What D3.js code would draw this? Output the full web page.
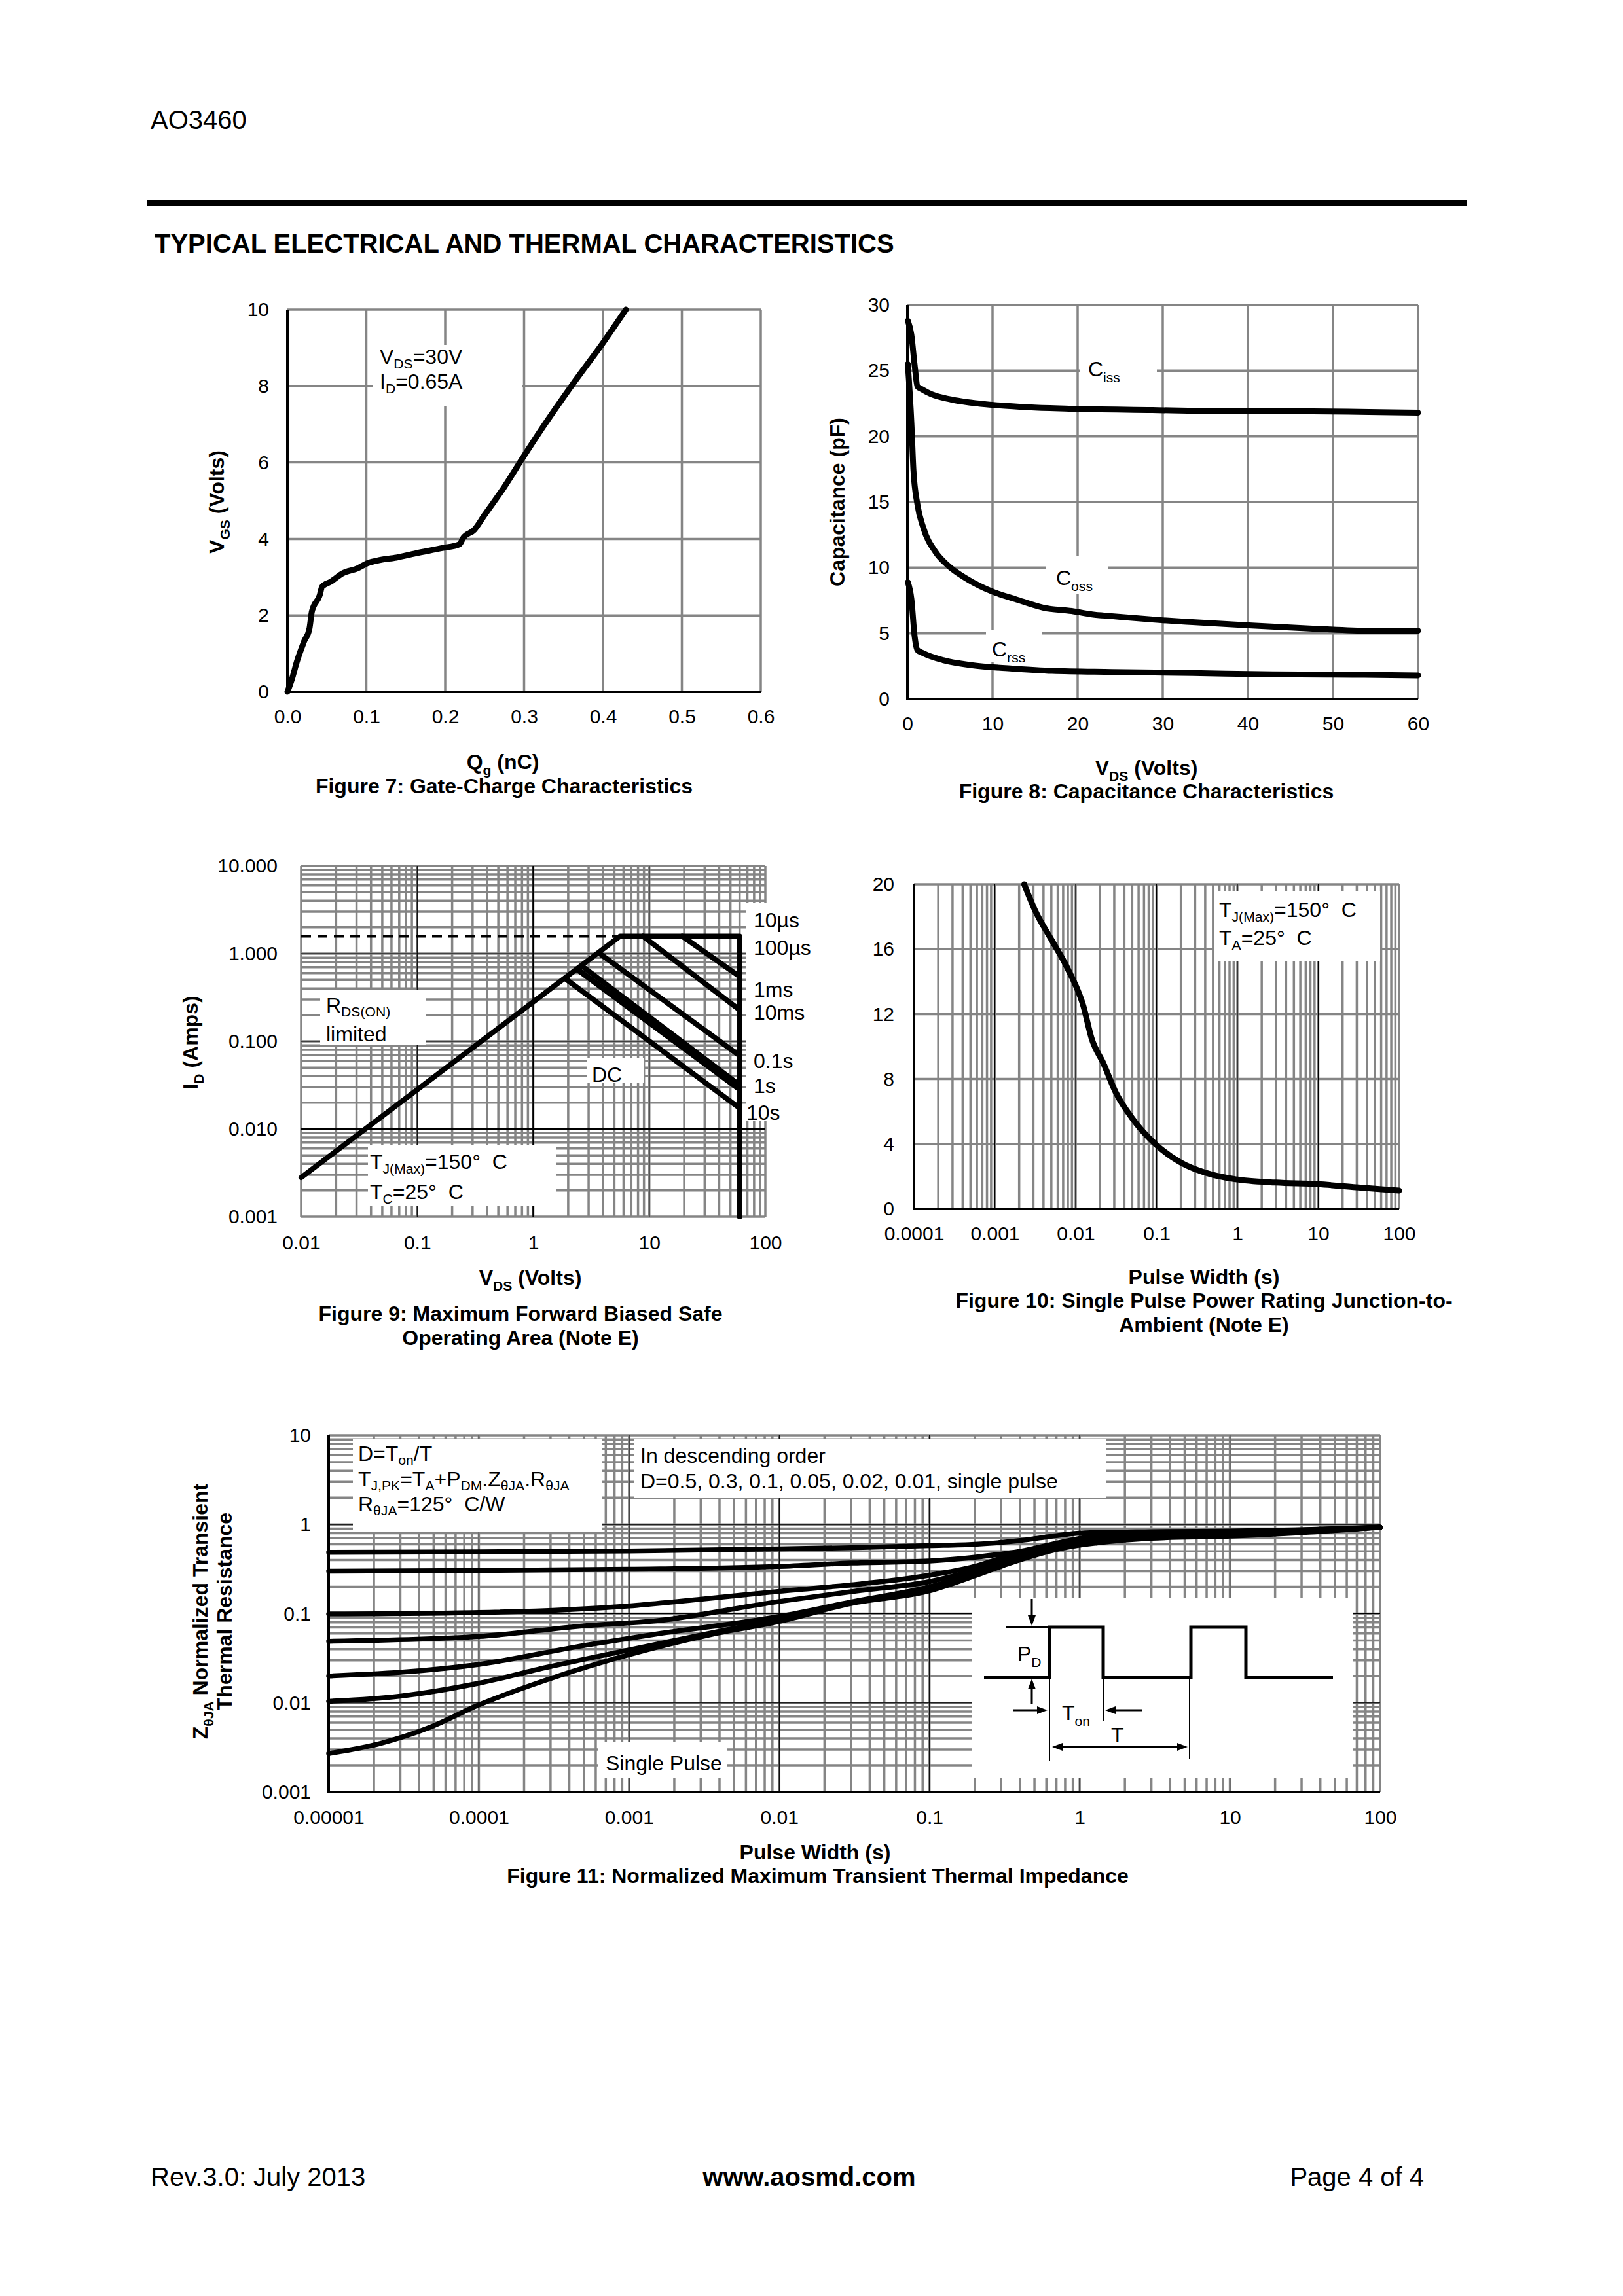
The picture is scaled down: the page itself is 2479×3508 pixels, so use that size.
<!DOCTYPE html>
<html>
<head>
<meta charset="utf-8">
<script src="https://cdn.jsdelivr.net/npm/d3@7"></script>
<style>
  html, body { margin: 0; padding: 0; background: #fff; }
  svg { display: block; }
  text { white-space: pre; }
</style>
</head>
<body>
<svg id="page" width="2479" height="3508"></svg>
<script>
// ---------- data ----------

// Figure 7: gate charge (Qg nC, Vgs V)
const qgTicks = [0, 0.1, 0.2, 0.3, 0.4, 0.5, 0.6];
const vgsTicks = [0, 2, 4, 6, 8, 10];
const gateCharge = [[0,0],[0.006,0.35],[0.012,0.79],[0.021,1.31],[0.028,1.66],[0.031,2.10],[0.041,2.53],[0.044,2.75],
  [0.055,2.88],[0.070,3.10],[0.089,3.23],[0.101,3.36],[0.118,3.45],[0.138,3.51],[0.162,3.62],[0.196,3.76],
  [0.218,3.86],[0.223,4.03],[0.237,4.24],[0.250,4.63],[0.274,5.33],[0.298,6.11],[0.323,6.90],[0.361,8.03],
  [0.400,9.13],[0.429,10.0]];

// Figure 8: capacitance (Vds V, pF)
const vdsTicks = [0, 10, 20, 30, 40, 50, 60];
const capTicks = [0, 5, 10, 15, 20, 25, 30];
const ciss = [[0.05,28.8],[0.47,27.7],[0.85,25.4],[1.18,23.8],[1.65,23.6],[2.83,23.2],[5.18,22.8],[9.9,22.4],
  [14.6,22.2],[19.3,22.1],[28.8,22.0],[38.2,21.9],[47.6,21.9],[60,21.8]];
const coss = [[0.05,25.5],[0.47,21.0],[0.71,17.4],[1.18,14.8],[1.89,13.0],[3.3,11.2],[4.7,10.2],[7.1,9.1],
  [9.9,8.2],[12.7,7.6],[16.0,6.95],[19.3,6.7],[21.7,6.44],[24.0,6.31],[28.8,6.05],[33.5,5.85],[40.5,5.59],
  [47.6,5.36],[54.2,5.2],[60,5.2]];
const crss = [[0.05,8.9],[0.47,7.6],[0.85,4.76],[1.18,3.73],[1.89,3.48],[4.2,2.96],[7.5,2.58],[12.3,2.32],
  [17.0,2.14],[24.0,2.06],[33.5,1.98],[42.9,1.88],[52.3,1.85],[60,1.80]];

// Figure 9: safe operating area (Vds V, Id A)
const soaVTicks = [0.01, 0.1, 1, 10, 100];
const soaITicks = [0.001, 0.01, 0.1, 1, 10];
const soaLimit = [[0.01,0.0028],[5.6,1.58],[60,1.58],[60,0.001]];   // RDS(ON), 10us and 60 V edge
const soaDashed = [[0.01,1.58],[5.6,1.58]];
const soa100us = [[19.2,1.58],[60,0.548]];
const soa1ms = [[8.8,1.58],[60,0.228]];
const soa10ms = [[3.78,0.99],[60,0.0686]];
const soa100ms = [[2.67,0.71],[60,0.0316]];
const soa1s = [[2.44,0.655],[60,0.0285]];
const soa10s = [[2.42,0.65],[60,0.0282]];
const soaDC = [[1.88,0.52],[60,0.0173]];
const soaLabels = ["10\u00b5s", "100\u00b5s", "1ms", "10ms", "0.1s", "1s", "10s"];

// Figure 10: single pulse power (s, W)
const pwTicks = [0.0001, 0.001, 0.01, 0.1, 1, 10, 100];
const pwLabels = ["0.0001", "0.001", "0.01", "0.1", "1", "10", "100"];
const powerTicks = [0, 4, 8, 12, 16, 20];
const pulsePower = [[0.00231,20],[0.00318,18.34],[0.00502,16.58],[0.00793,14.82],[0.0125,12.47],[0.0157,10.52],
  [0.0221,8.95],[0.0312,7.19],[0.0492,5.63],[0.0977,3.97],[0.194,2.89],[0.483,2.11],[0.957,1.82],[3.0,1.62],
  [9.95,1.52],[29.5,1.33],[100,1.13]];

// Figure 11: normalized transient thermal impedance (s, Zth)
const ztTicks = [0.00001, 0.0001, 0.001, 0.01, 0.1, 1, 10, 100];
const ztLabels = ["0.00001", "0.0001", "0.001", "0.01", "0.1", "1", "10", "100"];
const zTicks = [0.001, 0.01, 0.1, 1, 10];
const zLabels = ["0.001", "0.01", "0.1", "1", "10"];
const zD05 = [[1e-5,0.488],[1e-4,0.494],[1e-3,0.505],[1e-2,0.532],[0.03,0.55],[0.1,0.579],[0.2,0.60],[0.4,0.66],
  [0.7,0.75],[1,0.80],[3,0.83],[10,0.845],[30,0.875],[100,0.93]];
const zD03 = [[1e-5,0.30],[1e-4,0.305],[1e-3,0.315],[1e-2,0.339],[0.03,0.37],[0.1,0.39],[0.2,0.43],[0.4,0.50],
  [0.8,0.647],[1.3,0.75],[3,0.80],[10,0.83],[30,0.87],[100,0.93]];
const zD01 = [[1e-5,0.099],[1e-4,0.103],[1e-3,0.122],[3e-3,0.145],[1e-2,0.178],[0.035,0.216],[0.1,0.27],[0.2,0.34],
  [0.33,0.44],[0.8,0.63],[1.3,0.72],[3,0.77],[10,0.80],[30,0.85],[100,0.93]];
const zD005 = [[1e-5,0.049],[1e-4,0.0555],[5e-4,0.073],[1.5e-3,0.083],[1e-2,0.137],[0.035,0.182],[0.1,0.229],
  [0.2,0.31],[0.33,0.41],[0.8,0.60],[1.3,0.69],[3,0.75],[10,0.78],[30,0.84],[100,0.93]];
const zD002 = [[1e-5,0.020],[3e-5,0.022],[1e-4,0.027],[5e-4,0.044],[1.5e-3,0.059],[1e-2,0.093],[0.03,0.135],
  [0.1,0.20],[0.2,0.28],[0.33,0.38],[0.8,0.57],[1.3,0.66],[3,0.72],[10,0.76],[30,0.83],[100,0.93]];
const zD001 = [[1e-5,0.0104],[3e-5,0.0119],[1e-4,0.0166],[2.8e-4,0.0249],[1e-3,0.0392],[3.6e-3,0.0614],[1e-2,0.087],
  [0.03,0.132],[0.1,0.19],[0.2,0.27],[0.33,0.37],[0.8,0.56],[1.3,0.64],[3,0.71],[10,0.75],[30,0.82],[100,0.93]];
const zSingle = [[1e-5,0.0027],[2.2e-5,0.0035],[4.7e-5,0.0053],[1e-4,0.0095],[2.8e-4,0.018],[1e-3,0.0347],
  [3.6e-3,0.059],[1e-2,0.082],[0.03,0.13],[0.1,0.18],[0.2,0.265],[0.33,0.36],[0.8,0.55],[1.3,0.62],[3,0.70],
  [10,0.74],[30,0.81],[100,0.93]];

// ---------- helpers ----------
const FONT = '"Liberation Sans", Arial, sans-serif';
const GRID = "#858585";
const GW = 3.5;
const page = d3.select("#page").attr("font-family", FONT);
page.append("rect").attr("width", 2479).attr("height", 3508).attr("fill", "#fff");

// text made of plain strings and ["sub"] pieces
function rich(sel, x, y, parts, size, o = {}) {
  const t = sel.append("text").attr("x", x).attr("y", y).attr("font-size", size)
    .attr("font-weight", o.bold ? "bold" : null)
    .attr("text-anchor", o.anchor || "start");
  if (o.rotate) t.attr("transform", `rotate(-90,${x},${y})`);
  const drop = o.drop == null ? 0.28 : o.drop;
  let shift = 0;
  [].concat(parts).forEach(p => {
    const sub = Array.isArray(p);
    const want = sub ? size * drop : 0;
    t.append("tspan").attr("dy", (want - shift) || null)
      .attr("font-size", sub ? size * 0.66 : null).text(sub ? p[0] : p);
    shift = want;
  });
  return t;
}

function logGrid(lo, hi) {
  const v = [];
  for (let e = lo; e < hi; e++) for (let k = 1; k < 10; k++) v.push(k * Math.pow(10, e));
  v.push(Math.pow(10, hi));
  return v;
}

function vLines(g, vals, x, y0, y1, stroke, w) {
  g.append("g").selectAll("line").data(vals).join("line")
    .attr("x1", d => x(d)).attr("x2", d => x(d)).attr("y1", y0).attr("y2", y1)
    .attr("stroke", stroke).attr("stroke-width", w);
}
function hLines(g, vals, y, x0, x1, stroke, w) {
  g.append("g").selectAll("line").data(vals).join("line")
    .attr("y1", d => y(d)).attr("y2", d => y(d)).attr("x1", x0).attr("x2", x1)
    .attr("stroke", stroke).attr("stroke-width", w);
}
function whiteBox(g, x0, y0, x1, y1) {
  g.append("rect").attr("x", x0).attr("y", y0).attr("width", x1 - x0).attr("height", y1 - y0).attr("fill", "#fff");
}
function axisText(g, axis, tx, ty) {
  const a = g.append("g").attr("transform", `translate(${tx},${ty})`).call(axis);
  a.select(".domain").remove();
  a.attr("font-size", 30).attr("font-family", FONT);
  a.selectAll("text").attr("fill", "#000");
}
function curve(g, data, x, y, w, kind, dash) {
  g.append("path").datum(data)
    .attr("d", d3.line().x(d => x(d[0])).y(d => y(d[1])).curve(kind || d3.curveLinear))
    .attr("fill", "none").attr("stroke", "#000").attr("stroke-width", w)
    .attr("stroke-linejoin", "round").attr("stroke-linecap", dash ? "butt" : "round")
    .attr("stroke-dasharray", dash || null);
}
function axisLines(g, x0, x1, y0, y1) {
  g.append("line").attr("x1", x0).attr("x2", x0).attr("y1", y0).attr("y2", y1 + 2).attr("stroke", "#000").attr("stroke-width", 4);
  g.append("line").attr("x1", x0 - 2).attr("x2", x1).attr("y1", y1).attr("y2", y1).attr("stroke", "#000").attr("stroke-width", 4);
}
function arrow(g, x1, y1, x2, y2) {
  const a = Math.atan2(y2 - y1, x2 - x1), L = 16, W = 6;
  g.append("line").attr("x1", x1).attr("y1", y1)
    .attr("x2", x2 - Math.cos(a) * L).attr("y2", y2 - Math.sin(a) * L)
    .attr("stroke", "#000").attr("stroke-width", 3);
  const p = [[x2, y2],
    [x2 - Math.cos(a) * L - Math.sin(a) * W, y2 - Math.sin(a) * L + Math.cos(a) * W],
    [x2 - Math.cos(a) * L + Math.sin(a) * W, y2 - Math.sin(a) * L - Math.cos(a) * W]];
  g.append("path").attr("d", "M" + p.join("L") + "Z").attr("fill", "#000");
}

// ---------- header / footer ----------
rich(page, 230, 197, "AO3460", 40);
page.append("rect").attr("x", 225).attr("y", 306).attr("width", 2015).attr("height", 8).attr("fill", "#000");
rich(page, 236, 386, "TYPICAL ELECTRICAL AND THERMAL CHARACTERISTICS", 40, { bold: true });
rich(page, 230, 3340, "Rev.3.0: July 2013", 40);
rich(page, 1236, 3340, "www.aosmd.com", 40, { bold: true, anchor: "middle" });
rich(page, 2175, 3340, "Page 4 of 4", 40, { anchor: "end" });

// ---------- Figure 7 ----------
{
  const g = page.append("g");
  const x = d3.scaleLinear().domain([0, 0.6]).range([439, 1162]);
  const y = d3.scaleLinear().domain([0, 10]).range([1057, 473]);
  vLines(g, qgTicks.slice(1), x, 473, 1057, GRID, GW);
  hLines(g, vgsTicks.slice(1), y, 439, 1162, GRID, GW);
  whiteBox(g, 570, 527, 797, 621);
  axisLines(g, 439, 1162, 473, 1057);
  curve(g, gateCharge, x, y, 9, d3.curveMonotoneX);
  axisText(g, d3.axisLeft(y).tickValues(vgsTicks).tickSize(0).tickPadding(28), 439, 0);
  axisText(g, d3.axisBottom(x).tickValues(qgTicks).tickFormat(d3.format(".1f")).tickSize(0).tickPadding(27), 0, 1057);
  rich(g, 580, 556, ["V", ["DS"], "=30V"], 32, { drop: 0.22 });
  rich(g, 580, 594, ["I", ["D"], "=0.65A"], 32, { drop: 0.22 });
  rich(g, 768, 1175, ["Q", ["g"], " (nC)"], 32, { bold: true, anchor: "middle" });
  rich(g, 342, 767, ["V", ["GS"], " (Volts)"], 32, { bold: true, anchor: "middle", rotate: true });
  rich(g, 770, 1212, "Figure 7: Gate-Charge Characteristics", 32, { bold: true, anchor: "middle" });
}

// ---------- Figure 8 ----------
{
  const g = page.append("g");
  const x = d3.scaleLinear().domain([0, 60]).range([1386, 2166]);
  const y = d3.scaleLinear().domain([0, 30]).range([1068, 466]);
  vLines(g, vdsTicks.slice(1), x, 466, 1068, GRID, GW);
  hLines(g, capTicks.slice(1), y, 1386, 2166, GRID, GW);
  whiteBox(g, 1650, 550, 1767, 590);
  whiteBox(g, 1597, 850, 1692, 908);
  whiteBox(g, 1506, 963, 1591, 1011);
  axisLines(g, 1386, 2166, 466, 1068);
  curve(g, ciss, x, y, 9, d3.curveMonotoneX);
  curve(g, coss, x, y, 9, d3.curveMonotoneX);
  curve(g, crss, x, y, 9, d3.curveMonotoneX);
  axisText(g, d3.axisLeft(y).tickValues(capTicks).tickSize(0).tickPadding(27), 1386, 0);
  axisText(g, d3.axisBottom(x).tickValues(vdsTicks).tickSize(0).tickPadding(27), 0, 1068);
  rich(g, 1662, 575, ["C", ["iss"]], 32);
  rich(g, 1613, 894, ["C", ["oss"]], 32);
  rich(g, 1515, 1003, ["C", ["rss"]], 32);
  rich(g, 1751, 1184, ["V", ["DS"], " (Volts)"], 32, { bold: true, anchor: "middle" });
  rich(g, 1290, 767, "Capacitance (pF)", 32, { bold: true, anchor: "middle", rotate: true });
  rich(g, 1751, 1220, "Figure 8: Capacitance Characteristics", 32, { bold: true, anchor: "middle" });
}

// ---------- Figure 9 ----------
{
  const g = page.append("g");
  const x = d3.scaleLog().domain([0.01, 100]).range([460, 1169]);
  const y = d3.scaleLog().domain([0.001, 10]).range([1859, 1323]);
  vLines(g, logGrid(-2, 2), x, 1323, 1859, GRID, GW);
  hLines(g, logGrid(-3, 1), y, 460, 1169, GRID, GW);
  vLines(g, [0.1, 10], x, 1323, 1859, "#000", 1.2);
  vLines(g, [1], x, 1323, 1859, "#000", 2.5);
  hLines(g, [0.1, 1], y, 460, 1169, "#000", 1.2);
  hLines(g, [0.01], y, 460, 1169, "#000", 2.5);
  whiteBox(g, 489, 1512, 650, 1596);
  whiteBox(g, 897, 1616, 984, 1655);
  whiteBox(g, 562, 1749, 850, 1843);
  whiteBox(g, 1140, 1379, 1240, 1713);
  curve(g, soaDashed, x, y, 4, null, "15,10");
  [soa100us, soa1ms, soa10ms, soa100ms, soa1s, soa10s, soaDC].forEach(d => curve(g, d, x, y, 8));
  curve(g, soaLimit, x, y, 8);
  axisText(g, d3.axisLeft(y).tickValues(soaITicks).tickFormat(d3.format(".3f")).tickSize(0).tickPadding(36), 460, 0);
  axisText(g, d3.axisBottom(x).tickValues(soaVTicks).tickFormat(d => String(d)).tickSize(0).tickPadding(29), 0, 1859);
  const lx = [1151, 1151, 1151, 1151, 1151, 1151, 1140];
  const ly = [1417, 1459, 1523, 1558, 1632, 1670, 1711];
  soaLabels.forEach((s, i) => rich(g, lx[i], ly[i], s, 32));
  rich(g, 498, 1547, ["R", ["DS(ON)"]], 32, { drop: 0.18 });
  rich(g, 498, 1591, "limited", 32);
  rich(g, 904, 1653, "DC", 32);
  rich(g, 565, 1786, ["T", ["J(Max)"], "=150\u00b0  C"], 32, { drop: 0.22 });
  rich(g, 565, 1832, ["T", ["C"], "=25\u00b0  C"], 32, { drop: 0.22 });
  rich(g, 810, 1963, ["V", ["DS"], " (Volts)"], 32, { bold: true, anchor: "middle" });
  rich(g, 302, 1593, ["I", ["D"], " (Amps)"], 32, { bold: true, anchor: "middle", rotate: true });
  rich(g, 795, 2018, "Figure 9: Maximum Forward Biased Safe", 32, { bold: true, anchor: "middle" });
  rich(g, 795, 2055, "Operating Area (Note E)", 32, { bold: true, anchor: "middle" });
}

// ---------- Figure 10 ----------
{
  const g = page.append("g");
  const x = d3.scaleLog().domain([0.0001, 100]).range([1396, 2137]);
  const y = d3.scaleLinear().domain([0, 20]).range([1847, 1351]);
  vLines(g, logGrid(-4, 2), x, 1351, 1847, GRID, GW);
  hLines(g, powerTicks.slice(1), y, 1396, 2137, GRID, GW);
  vLines(g, [0.001, 0.01, 0.1, 1, 10], x, 1351, 1847, "#000", 1.2);
  whiteBox(g, 1854, 1361, 2108, 1468);
  axisLines(g, 1396, 2137, 1351, 1847);
  curve(g, pulsePower, x, y, 9, d3.curveMonotoneX);
  axisText(g, d3.axisLeft(y).tickValues(powerTicks).tickSize(0).tickPadding(30), 1396, 0);
  axisText(g, d3.axisBottom(x).tickValues(pwTicks).tickFormat((d, i) => pwLabels[i]).tickSize(0).tickPadding(27), 0, 1847);
  rich(g, 1862, 1401, ["T", ["J(Max)"], "=150\u00b0  C"], 32, { drop: 0.22 });
  rich(g, 1862, 1444, ["T", ["A"], "=25\u00b0  C"], 32, { drop: 0.22 });
  rich(g, 1839, 1962, "Pulse Width (s)", 32, { bold: true, anchor: "middle" });
  rich(g, 1839, 1998, "Figure 10: Single Pulse Power Rating Junction-to-", 32, { bold: true, anchor: "middle" });
  rich(g, 1839, 2035, "Ambient (Note E)", 32, { bold: true, anchor: "middle" });
}

// ---------- Figure 11 ----------
{
  const g = page.append("g");
  const x = d3.scaleLog().domain([0.00001, 100]).range([502, 2108]);
  const y = d3.scaleLog().domain([0.001, 10]).range([2738, 2193]);
  vLines(g, logGrid(-5, 2), x, 2193, 2738, GRID, GW);
  hLines(g, logGrid(-3, 1), y, 502, 2108, GRID, GW);
  vLines(g, [0.0001, 0.001, 0.01, 0.1, 1, 10], x, 2193, 2738, "#000", 1.2);
  hLines(g, [0.01, 0.1, 1], y, 502, 2108, "#000", 1.2);
  whiteBox(g, 539, 2199, 920, 2340);
  whiteBox(g, 968, 2199, 1690, 2288);
  whiteBox(g, 1484, 2441, 2066, 2717);
  whiteBox(g, 914, 2662, 1111, 2717);
  axisLines(g, 502, 2108, 2193, 2738);
  [zD05, zD03, zD01, zD005, zD002, zD001, zSingle].forEach(d => curve(g, d, x, y, 7.5, d3.curveMonotoneX));
  axisText(g, d3.axisLeft(y).tickValues(zTicks).tickFormat((d, i) => zLabels[i]).tickSize(0).tickPadding(27), 502, 0);
  axisText(g, d3.axisBottom(x).tickValues(ztTicks).tickFormat((d, i) => ztLabels[i]).tickSize(0).tickPadding(28), 0, 2738);

  rich(g, 547, 2232, ["D=T", ["on"], "/T"], 32, { drop: 0.2 });
  rich(g, 547, 2271, ["T", ["J,PK"], "=T", ["A"], "+P", ["DM"], ".Z", ["\u03b8JA"], ".R", ["\u03b8JA"]], 32, { drop: 0.2 });
  rich(g, 547, 2309, ["R", ["\u03b8JA"], "=125\u00b0  C/W"], 32, { drop: 0.2 });
  rich(g, 978, 2235, "In descending order", 32);
  rich(g, 978, 2274, "D=0.5, 0.3, 0.1, 0.05, 0.02, 0.01, single pulse", 32);
  rich(g, 925, 2705, "Single Pulse", 32);

  // duty cycle sketch
  const lo = 2563, hi = 2486;
  g.append("path").attr("fill", "none").attr("stroke", "#000").attr("stroke-width", 5)
    .attr("d", `M1503,${lo}H1603V${hi}H1685V${lo}H1819V${hi}H1903V${lo}H2036`);
  g.append("line").attr("x1", 1537).attr("x2", 1603).attr("y1", hi).attr("y2", hi).attr("stroke", "#000").attr("stroke-width", 2);
  [[1603, 2691], [1685, 2630], [1817, 2688]].forEach(d =>
    g.append("line").attr("x1", d[0]).attr("x2", d[0]).attr("y1", lo).attr("y2", d[1]).attr("stroke", "#000").attr("stroke-width", 2));
  arrow(g, 1576, 2443, 1576, hi - 2);
  arrow(g, 1576, 2604, 1576, lo + 2);
  arrow(g, 1548, 2613, 1600, 2613);
  arrow(g, 1745, 2613, 1688, 2613);
  arrow(g, 1700, 2669, 1607, 2669);
  arrow(g, 1700, 2669, 1814, 2669);
  rich(g, 1554, 2538, ["P", ["D"]], 32);
  rich(g, 1622, 2628, ["T", ["on"]], 32);
  rich(g, 1697, 2662, "T", 32);

  rich(g, 1245, 2841, "Pulse Width (s)", 32, { bold: true, anchor: "middle" });
  rich(g, 1249, 2877, "Figure 11: Normalized Maximum Transient Thermal Impedance", 32, { bold: true, anchor: "middle" });
  rich(g, 317, 2462, ["Z", ["\u03b8JA"], " Normalized Transient"], 32, { bold: true, anchor: "middle", rotate: true });
  rich(g, 354, 2462, "Thermal Resistance", 32, { bold: true, anchor: "middle", rotate: true });
}
</script>
</body>
</html>
